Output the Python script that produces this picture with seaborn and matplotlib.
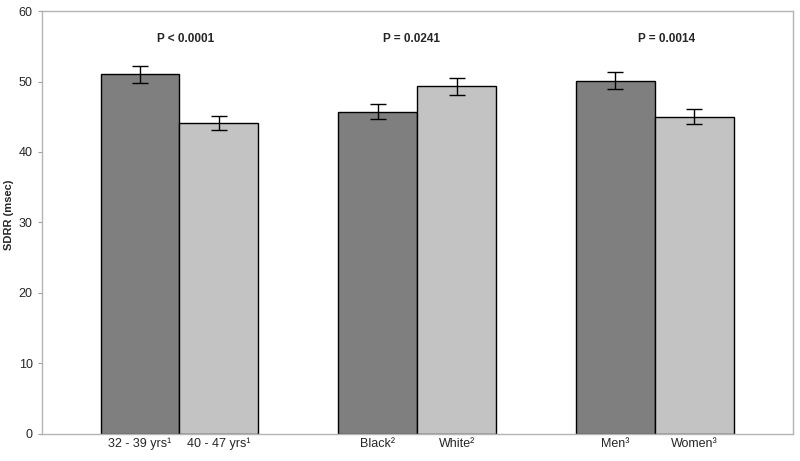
import pandas as pd
import seaborn as sns
from matplotlib import pyplot as plt

#%% DATA
groups = ['age', 'race', 'sex']
labels = ['32 - 39 yrs¹', '40 - 47 yrs¹', 'Black²', 'White²', 'Men³', 'Women³']
first_vals = [51.0, 45.7, 50.1]
second_vals = [44.1, 49.3, 45.0]
first_err = [1.2, 1.05, 1.2]
second_err = [1.0, 1.2, 1.1]
pvals = ['P < 0.0001', 'P = 0.0241', 'P = 0.0014']

df = pd.DataFrame({
    'group': groups * 2,
    'slot': ['a'] * 3 + ['b'] * 3,
    'sdrr': first_vals + second_vals,
    'err': first_err + second_err,
})

#%% PLOT
sns.set_style('white')
plt.rcParams['font.family'] = ['Liberation Sans', 'DejaVu Sans']

fig, ax = plt.subplots(figsize=(8, 4.61), dpi=100)
fig.subplots_adjust(left=0.052, right=0.991, top=0.976, bottom=0.059)

sns.barplot(data=df, x='group', y='sdrr', hue='slot', order=groups,
            hue_order=['a', 'b'], palette=['#7f7f7f', '#c3c3c3'],
            width=0.664, edgecolor='black', linewidth=1.0, errorbar=None,
            legend=False, ax=ax)

bars = sorted(ax.patches, key=lambda p: p.get_x())
centers = [p.get_x() + p.get_width() / 2 for p in bars]
heights = [p.get_height() for p in bars]
errs = []
for i in range(3):
    errs += [first_err[i], second_err[i]]
ax.errorbar(centers, heights, yerr=errs, fmt='none', ecolor='black',
            elinewidth=1.0, capsize=5.5, capthick=1.0)

# p-value labels, nudged as in the original
nudge = [0.025, -0.022, 0.05]
for i, txt in enumerate(pvals):
    ax.text(i + nudge[i], 56.1, txt, ha='center', va='center', fontsize=8.5,
            fontweight='bold')

ax.set_xticks(centers)
ax.set_xticklabels(labels, fontsize=9)
ax.set_xlim(-0.58, 2.58)
ax.set_ylim(0, 60)
ax.set_yticks(range(0, 61, 10))
ax.tick_params(axis='y', labelsize=9, length=3, color='#a0a0a0', left=True)
ax.tick_params(axis='x', length=0, pad=3)
ax.set_xlabel('')
ax.set_ylabel('SDRR (msec)', fontsize=8, fontweight='bold')
ax.yaxis.set_label_coords(-0.037, 0.518)
for s in ax.spines.values():
    s.set_color('#b4b4b4')
    s.set_linewidth(1.0)

fig.savefig('out.png', dpi=100)
